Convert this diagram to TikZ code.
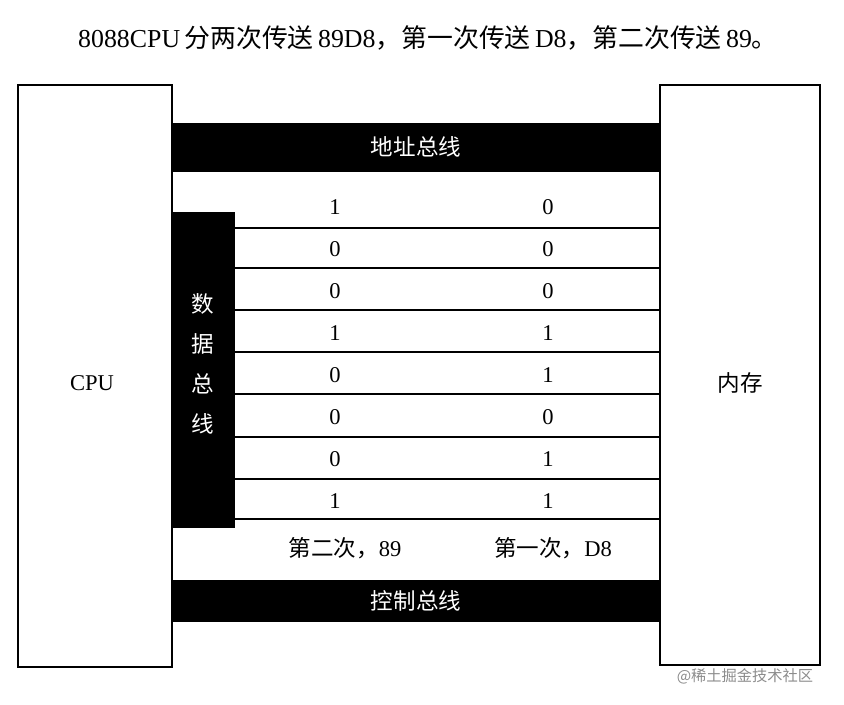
\documentclass[tikz,border=0pt]{standalone}
\usepackage{fontspec}
\setmainfont{Liberation Serif}
\newfontfamily\cjk{Noto Sans CJK SC}
\begin{document}
\begin{tikzpicture}[x=0.0265cm,y=-0.0265cm,
  box/.style={draw,line width=1.6pt},
  bar/.style={fill=black},
  bit/.style={font=\fontsize{17}{19}\selectfont},
  wt/.style={text=white,font=\cjk\fontsize{17}{19}\selectfont},
  wire/.style={line width=1.4pt}]
\useasboundingbox (0,0) rectangle (844,704);
\node (title) at (428,38) {\fontsize{19.5}{22}\selectfont 8088CPU\,{\cjk 分两次传送}\,89D8{\cjk ，第一次传送}\,D8{\cjk ，第二次传送}\,89{\cjk 。}};
\draw[box] (18,85) rectangle (172,667);
\node (cpu) at (92,383) {\fontsize{17}{19}\selectfont CPU};
\draw[box] (660,85) rectangle (820,665);
\node (mem) at (740,383) {\cjk\fontsize{17}{19}\selectfont 内存};
\fill[bar] (172,123) rectangle (660,172);
\node[wt] (ab) at (416,147) {地址总线};
\fill[bar] (172,212) rectangle (235,528);
\node[wt,align=center] (db) at (203,364) {数\\[11pt]据\\[11pt]总\\[11pt]线};
\foreach \y in {228,268,310,352,394,437,479,519} \draw[wire] (235,\y) -- (660,\y);
\foreach \a/\b [count=\i from 0] in {1/0,0/0,0/0,1/1,0/1,0/0,0/1,1/1}{
  \node[bit] (l\i) at (335,{207+42*\i}) {\a};
  \node[bit] (r\i) at (548,{207+42*\i}) {\b};
}
\node (s2) at (345,548) {\fontsize{17}{19}\selectfont{\cjk 第二次，}89};
\node (s1) at (553,548) {\fontsize{17}{19}\selectfont{\cjk 第一次，}D8};
\fill[bar] (172,580) rectangle (660,622);
\node[wt] (cb) at (416,601) {控制总线};
\node[text=black!45] (wm) at (745,676) {\cjk\fontsize{11.5}{13}\selectfont @稀土掘金技术社区};
\end{tikzpicture}
\end{document}
